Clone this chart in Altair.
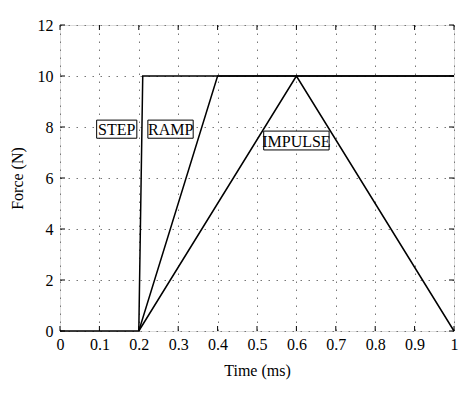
import altair as alt
import pandas as pd

# Series data
step_t = [0.0, 0.2, 0.21, 1.0]
step_f = [0, 0, 10, 10]
ramp_t = [0.2, 0.4, 1.0]
ramp_f = [0, 10, 10]
impulse_t = [0.2, 0.6, 1.0]
impulse_f = [0, 10, 0]

# Labels
label_text = ["STEP", "RAMP", "IMPULSE"]
label_t = [0.144, 0.281, 0.600]
label_f = [7.92, 7.92, 7.47]
box_t1 = [0.093, 0.223, 0.517]
box_t2 = [0.195, 0.338, 0.683]
box_f1 = [7.56, 7.56, 7.10]
box_f2 = [8.27, 8.27, 7.84]

x_ticks = [0, 0.1, 0.2, 0.3, 0.4, 0.5, 0.6, 0.7, 0.8, 0.9, 1]
y_ticks = [0, 2, 4, 6, 8, 10, 12]

W, H = 394, 306
FONT = "Liberation Serif"

rows = []
for name, ts, fs in [("STEP", step_t, step_f), ("RAMP", ramp_t, ramp_f), ("IMPULSE", impulse_t, impulse_f)]:
    for i, (t, f) in enumerate(zip(ts, fs)):
        rows.append({"series": name, "t": t, "f": f, "order": i})
lines_df = pd.DataFrame(rows)
labels_df = pd.DataFrame({"text": label_text, "t": label_t, "f": label_f,
                          "t1": box_t1, "t2": box_t2, "f1": box_f1, "f2": box_f2})
xt_df = pd.DataFrame({"t": x_ticks})
yt_df = pd.DataFrame({"f": y_ticks})

xs = alt.Scale(domain=[0, 1], nice=False, zero=False)
ys = alt.Scale(domain=[0, 12], nice=False, zero=False)

common = dict(tickSize=0, grid=True, gridDash=[1.5, 6.5], gridColor="#777", gridWidth=1,
              domain=False, labelFontSize=16, titleFontSize=16, titleFontWeight="normal",
              labelFont=FONT, titleFont=FONT, labelColor="black", titleColor="black",
              labelFlush=False, labelOverlap=False, format="~g")
x_axis = alt.Axis(values=x_ticks, title="Time (ms)", labelPadding=5, titlePadding=10, **common)
y_axis = alt.Axis(values=y_ticks, title="Force (N)", labelPadding=7, titlePadding=12, **common)


def X(field):
    return alt.X(field, scale=xs, axis=x_axis)


def Y(field):
    return alt.Y(field, scale=ys, axis=y_axis)


lines = alt.Chart(lines_df).mark_line(color="black", strokeWidth=1.5).encode(
    x=X("t:Q"), y=Y("f:Q"), detail="series:N", order="order:Q",
)

boxes = alt.Chart(labels_df).mark_rect(fill="white", stroke="black", strokeWidth=1).encode(
    x=X("t1:Q"), x2="t2:Q", y=Y("f1:Q"), y2="f2:Q",
)
texts = alt.Chart(labels_df).mark_text(font=FONT, fontSize=16, color="black", dy=1).encode(
    x=X("t:Q"), y=Y("f:Q"), text="text:N"
)

tick_len = 5
xb = alt.Chart(xt_df).mark_rule(color="black", strokeWidth=1).encode(
    x=X("t:Q"), y=alt.value(H), y2=alt.value(H - tick_len))
xtop = alt.Chart(xt_df).mark_rule(color="black", strokeWidth=1).encode(
    x=X("t:Q"), y=alt.value(0), y2=alt.value(tick_len))
yl = alt.Chart(yt_df).mark_rule(color="black", strokeWidth=1).encode(
    y=Y("f:Q"), x=alt.value(0), x2=alt.value(tick_len))
yr = alt.Chart(yt_df).mark_rule(color="black", strokeWidth=1).encode(
    y=Y("f:Q"), x=alt.value(W), x2=alt.value(W - tick_len))

chart = alt.layer(lines, xb, xtop, yl, yr, boxes, texts).properties(
    width=W, height=H,
    autosize=alt.AutoSizeParams(type="none"),
    padding={"left": 52, "top": 17, "right": 12, "bottom": 55},
).configure_view(stroke="black", strokeWidth=1.5).configure(background="white")

chart.save("out.html", embed_options={"renderer": "svg", "actions": False})
